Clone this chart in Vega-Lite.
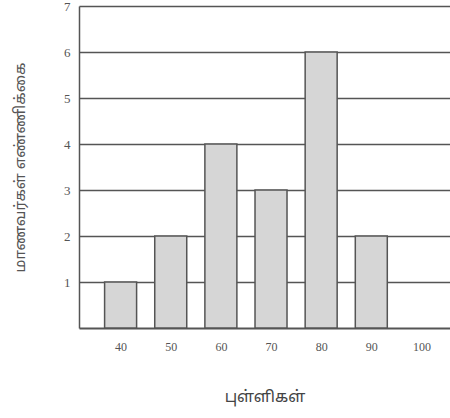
{
  "$schema": "https://vega.github.io/schema/vega-lite/v6.json",
  "autosize": {"type": "none"},
  "width": 371,
  "height": 322,
  "padding": {"left": 79, "top": 6, "right": 0, "bottom": 90},
  "background": "white",
  "config": {"view": {"stroke": null}},
  "data": {"values": [
    {"marks": 40, "students": 1},
    {"marks": 50, "students": 2},
    {"marks": 60, "students": 4},
    {"marks": 70, "students": 3},
    {"marks": 80, "students": 6},
    {"marks": 90, "students": 2}
  ]},
  "mark": {"type": "bar", "width": 32, "fill": "#d6d6d6", "stroke": "#555555", "strokeWidth": 1.5},
  "encoding": {
    "x": {
      "field": "marks", "type": "quantitative",
      "scale": {"domain": [32.7, 104.7], "nice": false, "zero": false},
      "axis": {
        "values": [40, 50, 60, 70, 80, 90, 100],
        "title": "புள்ளிகள்",
        "titleFont": "Noto Sans Tamil, Noto Sans, sans-serif", "titleFontSize": 16, "titleFontWeight": "normal", "titleColor": "#444",
        "titlePadding": 36,
        "labelFont": "Liberation Serif", "labelFontSize": 12, "labelColor": "#555",
        "labelPadding": 13,
        "ticks": false, "grid": false,
        "domainColor": "#555", "domainWidth": 2
      }
    },
    "y": {
      "field": "students", "type": "quantitative",
      "scale": {"domain": [0, 7], "nice": false},
      "axis": {
        "values": [1, 2, 3, 4, 5, 6, 7],
        "title": "மாணவர்கள்    எண்ணிக்கை",
        "titleFont": "Noto Sans Tamil, Noto Sans, sans-serif", "titleFontSize": 15, "titleFontWeight": "normal", "titleColor": "#555",
        "titlePadding": 36,
        "labelFont": "Liberation Serif", "labelFontSize": 13, "labelColor": "#555",
        "labelPadding": 9,
        "ticks": false,
        "grid": true, "gridColor": "#555", "gridWidth": 1.5, "gridOpacity": 1,
        "domainColor": "#555", "domainWidth": 1.5
      }
    }
  }
}
